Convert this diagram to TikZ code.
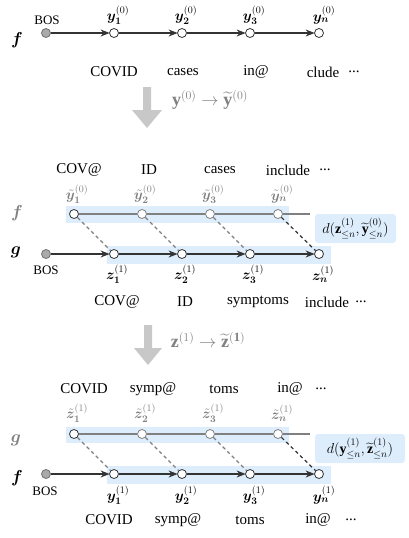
\documentclass[tikz,border=0pt]{standalone}
\usepackage{fontspec}
\setmainfont{Liberation Serif}
\usepackage{amsmath}
\usepackage{bm}
\usetikzlibrary{arrows.meta}
\definecolor{dark}{HTML}{333333}
\definecolor{midgray}{HTML}{808080}
\definecolor{lblue}{HTML}{DDEDFC}
\definecolor{bigarrow}{HTML}{C8C8C8}
\definecolor{bosfill}{HTML}{AAAAAA}
\tikzset{
  tok/.style={circle, draw=dark, fill=white, inner sep=0pt, minimum size=9pt, line width=0.8pt},
  gtok/.style={tok, draw=midgray},
  bostok/.style={tok, fill=bosfill, draw=dark!70},
  arr/.style={draw=dark, line width=1.2pt, -{Stealth[length=9pt,width=7pt]}, shorten >=-0.5pt},
  gline/.style={draw=midgray, line width=1.1pt},
  dsh/.style={draw=midgray, line width=1.2pt, dash pattern=on 3.5pt off 3pt},
  dshk/.style={draw=dark, line width=1.2pt, dash pattern=on 3.5pt off 3pt},
  band/.style={fill=lblue, draw=none},
  word/.style={inner sep=0pt, font=\fontsize{15}{17}\selectfont},
  boslab/.style={inner sep=0pt, font=\fontsize{13}{15}\selectfont},
  lab/.style={inner sep=0pt, font=\fontsize{14.5}{16}\selectfont},
  glab/.style={lab, text=midgray},
  arrlab/.style={inner sep=0pt, font=\fontsize{18}{20}\selectfont, text=midgray},
  fg/.style={inner sep=0pt, font=\fontsize{18}{20}\selectfont},
  dbox/.style={fill=lblue, rounded corners=3pt, inner sep=0pt, font=\fontsize{14}{16}\selectfont},
  bigarr/.style={fill=bigarrow, draw=none},
}
\begin{document}
\begin{tikzpicture}[x=1pt,y=-1pt]
\useasboundingbox (0,0) rectangle (408,538);
% ---------------- Section 1 ----------------
\node[fg] (f1) at (17,40) {$\bm{f}$};
\node[bostok] (a0) at (46,33) {};
\node[tok] (a1) at (114,33) {};
\node[tok] (a2) at (182,33) {};
\node[tok] (a3) at (250,33) {};
\node[tok] (a4) at (319,33) {};
\draw[arr] (a0) -- (a1);
\draw[arr] (a1) -- (a2);
\draw[arr] (a2) -- (a3);
\draw[arr] (a3) -- (a4);
\node[boslab] (abos) at (47,20) {BOS};
\node[lab] (al1) at (118,15) {$\bm{y}_{\bm{1}}^{(0)}$};
\node[lab] (al2) at (186,15) {$\bm{y}_{\bm{2}}^{(0)}$};
\node[lab] (al3) at (254,15) {$\bm{y}_{\bm{3}}^{(0)}$};
\node[lab] (al4) at (324,15) {$\bm{y}_{\bm{n}}^{(0)}$};
\node[word] (aw1) at (114,72) {COVID};
\node[word] (aw2) at (183,72) {cases};
\node[word] (aw3) at (256,72) {in@};
\node[word] (aw4) at (323,72) {clude};
\node[word] (aw5) at (354,72) {...};
% big arrow 1
\fill[bigarr] (143,87) -- (151,87) -- (151,110) -- (162,110) -- (147,128) -- (132,110) -- (143,110) -- cycle;
\node[arrlab] (t1) at (210,100) {$\mathbf{y}^{(0)} \rightarrow \widetilde{\mathbf{y}}^{(0)}$};
% ---------------- Section 2 ----------------
\node[word] (bw1) at (79,170) {COV@};
\node[word] (bw2) at (149,170) {ID};
\node[word] (bw3) at (220,170) {cases};
\node[word] (bw4) at (288,170) {include};
\node[word] (bw5) at (325,170) {...};
\fill[band] (66,206) rectangle (289,223);
\fill[band] (107,246) rectangle (331,264);
\node[fg, text=midgray] (f2) at (17,213) {$\bm{f}$};
\node[fg] (g2) at (16,252) {$\bm{g}$};
\node[tok] (b1) at (74,214) {};
\node[gtok] (b2) at (142,214) {};
\node[gtok] (b3) at (210,214) {};
\node[gtok] (b4) at (278,214) {};
\coordinate (bend) at (310,214);
\draw[gline] (b1) -- (b2);
\draw[gline] (b2) -- (b3);
\draw[gline] (b3) -- (b4);
\draw[gline] (b4) -- (bend);
\node[bostok] (c0) at (46,254) {};
\node[tok] (c1) at (114,254) {};
\node[tok] (c2) at (182,254) {};
\node[tok] (c3) at (250,254) {};
\node[tok] (c4) at (319,254) {};
\draw[arr] (c0) -- (c1);
\draw[arr] (c1) -- (c2);
\draw[arr] (c2) -- (c3);
\draw[arr] (c3) -- (c4);
\draw[dsh] (b1) -- (c1);
\draw[dsh] (b2) -- (c2);
\draw[dsh] (b3) -- (c3);
\draw[dshk] (b4) -- (c4);
\node[glab] (bl1) at (77,194) {$\tilde{\bm{y}}_{\bm{1}}^{(0)}$};
\node[glab] (bl2) at (145,194) {$\tilde{\bm{y}}_{\bm{2}}^{(0)}$};
\node[glab] (bl3) at (213,194) {$\tilde{\bm{y}}_{\bm{3}}^{(0)}$};
\node[glab] (bl4) at (282,194) {$\tilde{\bm{y}}_{\bm{n}}^{(0)}$};
\node[boslab] (cbos) at (46,270) {BOS};
\node[lab] (cl1) at (117,274) {$\bm{z}_{\bm{1}}^{(1)}$};
\node[lab] (cl2) at (185,274) {$\bm{z}_{\bm{2}}^{(1)}$};
\node[lab] (cl3) at (253,274) {$\bm{z}_{\bm{3}}^{(1)}$};
\node[lab] (cl4) at (323,274) {$\bm{z}_{\bm{n}}^{(1)}$};
\node[dbox, minimum width=81pt, minimum height=29pt] (d1) at (355.5,228.5) {$d(\mathbf{z}^{(1)}_{\leq n},\widetilde{\mathbf{y}}^{(0)}_{\leq n})$};
\node[word] (cw1) at (117,302) {COV@};
\node[word] (cw2) at (185,302) {ID};
\node[word] (cw3) at (258,302) {symptoms};
\node[word] (cw4) at (327,302) {include};
\node[word] (cw5) at (361,302) {...};
% big arrow 2
\fill[bigarr] (144,325) -- (152,325) -- (152,348) -- (162,348) -- (148,365) -- (134,348) -- (144,348) -- cycle;
\node[arrlab] (t2) at (208,340) {$\mathbf{z}^{(1)} \rightarrow \widetilde{\mathbf{z}}^{(\mathbf{1})}$};
% ---------------- Section 3 ----------------
\node[word] (dw1) at (84,389) {COVID};
\node[word] (dw2) at (153,389) {symp@};
\node[word] (dw3) at (224,389) {toms};
\node[word] (dw4) at (290,389) {in@};
\node[word] (dw5) at (321,389) {...};
\fill[band] (66,427) rectangle (289,443);
\fill[band] (107,466) rectangle (331,484);
\node[fg, text=midgray] (g3) at (16,440) {$\bm{g}$};
\node[fg] (f3) at (17,478) {$\bm{f}$};
\node[tok] (e1) at (74,434) {};
\node[gtok] (e2) at (142,434) {};
\node[gtok] (e3) at (210,434) {};
\node[gtok] (e4) at (278,434) {};
\coordinate (eend) at (310,434);
\draw[gline] (e1) -- (e2);
\draw[gline] (e2) -- (e3);
\draw[gline] (e3) -- (e4);
\draw[gline] (e4) -- (eend);
\node[bostok] (h0) at (46,474) {};
\node[tok] (h1) at (114,474) {};
\node[tok] (h2) at (182,474) {};
\node[tok] (h3) at (250,474) {};
\node[tok] (h4) at (319,474) {};
\draw[arr] (h0) -- (h1);
\draw[arr] (h1) -- (h2);
\draw[arr] (h2) -- (h3);
\draw[arr] (h3) -- (h4);
\draw[dsh] (e1) -- (h1);
\draw[dsh] (e2) -- (h2);
\draw[dsh] (e3) -- (h3);
\draw[dshk] (e4) -- (h4);
\node[glab] (el1) at (77,413) {$\tilde{\bm{z}}_{\bm{1}}^{(1)}$};
\node[glab] (el2) at (145,413) {$\tilde{\bm{z}}_{\bm{2}}^{(1)}$};
\node[glab] (el3) at (213,413) {$\tilde{\bm{z}}_{\bm{3}}^{(1)}$};
\node[glab] (el4) at (282,413) {$\tilde{\bm{z}}_{\bm{n}}^{(1)}$};
\node[boslab] (hbos) at (45,491) {BOS};
\node[lab] (hl1) at (118,495) {$\bm{y}_{\bm{1}}^{(1)}$};
\node[lab] (hl2) at (186,495) {$\bm{y}_{\bm{2}}^{(1)}$};
\node[lab] (hl3) at (254,495) {$\bm{y}_{\bm{3}}^{(1)}$};
\node[lab] (hl4) at (324,495) {$\bm{y}_{\bm{n}}^{(1)}$};
\node[dbox, minimum width=90pt, minimum height=29pt] (d2) at (360,448.5) {$d(\mathbf{y}^{(1)}_{\leq n},\widetilde{\mathbf{z}}^{(1)}_{\leq n})$};
\node[word] (hw1) at (109,520) {COVID};
\node[word] (hw2) at (178,520) {symp@};
\node[word] (hw3) at (250,520) {toms};
\node[word] (hw4) at (318,520) {in@};
\node[word] (hw5) at (351,520) {...};
\end{tikzpicture}
\end{document}
